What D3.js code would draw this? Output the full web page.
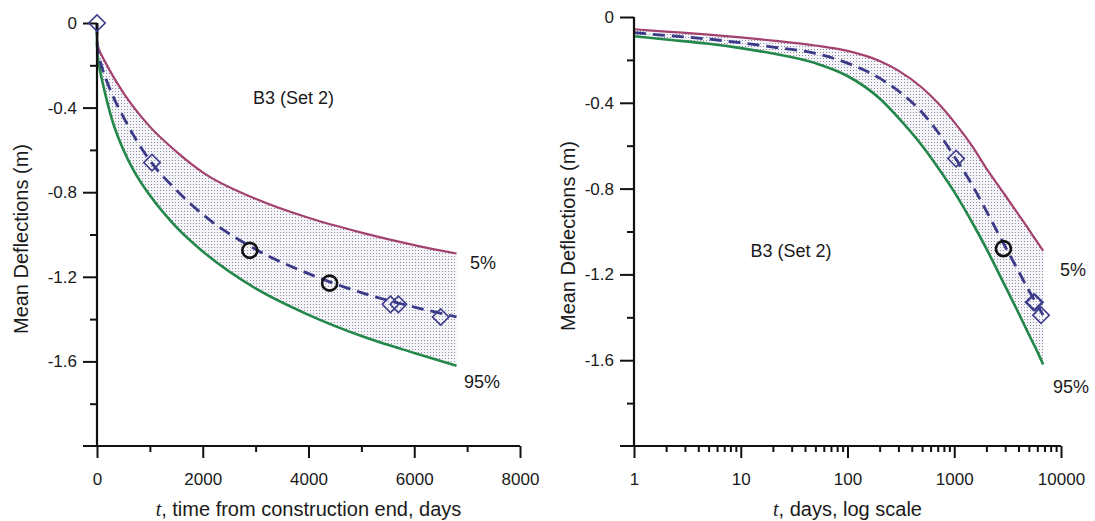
<!DOCTYPE html>
<html><head><meta charset="utf-8">
<script src="https://cdn.jsdelivr.net/npm/d3@7"></script>
<style>
body{margin:0;background:#fff}
text{font-family:"Liberation Sans",Arial,sans-serif;fill:#1a1a1a}
</style>
</head><body>
<svg id="c" width="1095" height="521"></svg>
<script>
// ---- data ----
const timeDays = [0, 1, 2, 5, 10, 20, 50, 100, 200, 300, 500, 700, 1000, 1500, 2000, 3000, 4000, 5000, 6000, 6800];
const pct5     = [0, -0.057, -0.068, -0.082, -0.095, -0.110, -0.133, -0.158, -0.205, -0.250, -0.330, -0.400, -0.490, -0.608, -0.706, -0.831, -0.921, -0.991, -1.050, -1.090];
const meanDefl = [0, -0.073, -0.086, -0.103, -0.120, -0.140, -0.170, -0.215, -0.285, -0.345, -0.445, -0.535, -0.650, -0.790, -0.905, -1.070, -1.185, -1.275, -1.343, -1.390];
const pct95    = [0, -0.090, -0.105, -0.125, -0.145, -0.170, -0.215, -0.275, -0.380, -0.470, -0.600, -0.700, -0.815, -0.965, -1.080, -1.255, -1.380, -1.480, -1.560, -1.620];

const diamondT = [0, 1040, 5550, 5700, 6500];
const diamondV = [0, -0.66, -1.33, -1.33, -1.39];
const circleT  = [2890, 4400];
const circleV  = [-1.075, -1.23];
// right (log) panel shows only these observations
const diamondTLog = [1040, 5550, 5700, 6500];
const diamondVLog = [-0.66, -1.33, -1.33, -1.39];
const circleTLog  = [2890];
const circleVLog  = [-1.08];

const yMajor = [0, -0.4, -0.8, -1.2, -1.6];
const yMajorLabels = ["0", "-0.4", "-0.8", "-1.2", "-1.6"];
const yMinor = [-0.2, -0.6, -1.0, -1.4, -1.8];
const xMajorLin = [0, 2000, 4000, 6000, 8000];
const xMajorLinLabels = ["0", "2000", "4000", "6000", "8000"];
const xMinorLin = [1000, 3000, 5000, 7000];
const xMajorLog = [1, 10, 100, 1000, 10000];
const xMajorLogLabels = ["1", "10", "100", "1000", "10000"];
const xMinorLog = [2,3,4,5,6,7,8,9,20,30,40,50,60,70,80,90,200,300,400,500,600,700,800,900,2000,3000,4000,5000,6000,7000,8000,9000];

// ---- drawing ----
const svg = d3.select("#c");
svg.append("rect").attr("width",1095).attr("height",521).attr("fill","#fff");
const defs = svg.append("defs");
const pat = defs.append("pattern").attr("id","dots").attr("width",3).attr("height",3)
  .attr("patternUnits","userSpaceOnUse");
pat.append("rect").attr("width",3).attr("height",3).attr("fill","#f4f4f9");
pat.append("rect").attr("x",1).attr("y",1).attr("width",1).attr("height",1).attr("fill","#8c8c9e");

const COL5 = "#a3416f", COL95 = "#23874a", COLM = "#3a3a88", COLD = "#3d3d8e";

function panel(o){
  const x = o.x, y = o.y;
  const g = svg.append("g");
  const rows = timeDays.map((t,i)=>({t, p5:pct5[i], m:meanDefl[i], p95:pct95[i]})).filter(d=>o.keep(d.t));

  // band
  g.append("path").datum(rows)
    .attr("d", d3.area().x(d=>x(d.t)).y0(d=>y(d.p5)).y1(d=>y(d.p95)).curve(d3.curveMonotoneX))
    .attr("fill","url(#dots)");
  const line = key => d3.line().x(d=>x(d.t)).y(d=>y(d[key])).curve(d3.curveMonotoneX);
  g.append("path").datum(rows).attr("d", line("p5")).attr("fill","none").attr("stroke",COL5).attr("stroke-width",2.2);
  g.append("path").datum(rows).attr("d", line("p95")).attr("fill","none").attr("stroke",COL95).attr("stroke-width",2.6);
  g.append("path").datum(rows).attr("d", line("m")).attr("fill","none").attr("stroke",COLM)
    .attr("stroke-width",2.8).attr("stroke-dasharray","12,7");

  // axes
  const x0 = x.range()[0], x1 = x.range()[1];
  const yb = y(-2), yt = y(0);
  const ax = g.append("g").attr("transform",`translate(0,${yb})`)
    .call(d3.axisBottom(x).tickValues(o.xMajor).tickSize(12).tickSizeOuter(0).tickPadding(15)
      .tickFormat((d,i)=>o.xLabels[i]));
  const axm = g.append("g").attr("transform",`translate(0,${yb})`)
    .call(d3.axisBottom(x).tickValues(o.xMinor).tickSize(6).tickSizeOuter(0).tickFormat(""));
  const ay = g.append("g").attr("transform",`translate(${x0},0)`)
    .call(d3.axisLeft(y).tickValues(yMajor).tickSize(14).tickSizeOuter(0).tickPadding(6)
      .tickFormat((d,i)=>yMajorLabels[i]));
  const aym = g.append("g").attr("transform",`translate(${x0},0)`)
    .call(d3.axisLeft(y).tickValues(yMinor).tickSize(7).tickSizeOuter(0).tickFormat(""));
  [ax,axm,ay,aym].forEach(a=>{
    a.select(".domain").remove();
    a.selectAll("line").attr("stroke","#111").attr("stroke-width",2);
    a.selectAll("text").attr("font-size",17).attr("font-family",'"Liberation Sans",Arial,sans-serif').attr("fill","#1a1a1a");
  });
  g.append("line").attr("x1",x0-14).attr("x2",x1).attr("y1",yb).attr("y2",yb).attr("stroke","#111").attr("stroke-width",2.2);
  g.append("line").attr("x1",x0).attr("x2",x0).attr("y1",yt).attr("y2",yb).attr("stroke","#111").attr("stroke-width",2.2);

  // observations
  g.selectAll(".dia").data(o.dT.map((t,i)=>({t, v:o.dV[i]}))).join("path")
    .attr("d", d3.symbol(d3.symbolSquare, 135)())
    .attr("transform", d=>`translate(${x(d.t)},${y(d.v)}) rotate(45)`)
    .attr("fill","none").attr("stroke",COLD).attr("stroke-width",1.6);
  g.selectAll(".cir").data(o.cT.map((t,i)=>({t, v:o.cV[i]}))).join("circle")
    .attr("cx", d=>x(d.t)).attr("cy", d=>y(d.v)).attr("r",7.5)
    .attr("fill","none").attr("stroke","#111").attr("stroke-width",2.6);

  // texts
  g.append("text").attr("x",o.setX).attr("y",o.setY).attr("text-anchor",o.setAnchor).attr("font-size",18).text("B3 (Set 2)");
  g.append("text").attr("x",o.p5X).attr("y",o.p5Y).attr("font-size",18).text("5%");
  g.append("text").attr("x",o.p95X).attr("y",o.p95Y).attr("font-size",18).text("95%");
  g.append("text").attr("transform",`translate(${o.ytX},${o.ytY}) rotate(-90)`)
    .attr("text-anchor","middle").attr("font-size",20).text("Mean Deflections (m)");
  const xt = g.append("text").attr("x",(x0+x1)/2).attr("y",516).attr("text-anchor","middle").attr("font-size",20);
  xt.append("tspan").attr("font-style","italic").attr("font-family",'"Liberation Serif",serif').text("t");
  xt.append("tspan").text(o.xTitle);
}

panel({
  x: d3.scaleLinear([0,8000],[97,520]),
  y: d3.scaleLinear([0,-2],[23,446]),
  keep: t=>true,
  xMajor: xMajorLin, xLabels: xMajorLinLabels, xMinor: xMinorLin,
  dT: diamondT, dV: diamondV, cT: circleT, cV: circleV,
  setX: 253, setY: 104, setAnchor: "start",
  p5X: 470, p5Y: 269, p95X: 464, p95Y: 388,
  ytX: 28, ytY: 239, xTitle: ", time from construction end, days"
});
panel({
  x: d3.scaleLog([1,10000],[634,1061]),
  y: d3.scaleLinear([0,-2],[17,446]),
  keep: t=>t>0,
  xMajor: xMajorLog, xLabels: xMajorLogLabels, xMinor: xMinorLog,
  dT: diamondTLog, dV: diamondVLog, cT: circleTLog, cV: circleVLog,
  setX: 791, setY: 257, setAnchor: "middle",
  p5X: 1060, p5Y: 276, p95X: 1053, p95Y: 393,
  ytX: 575, ytY: 236, xTitle: ", days, log scale"
});
</script>
</body></html>
